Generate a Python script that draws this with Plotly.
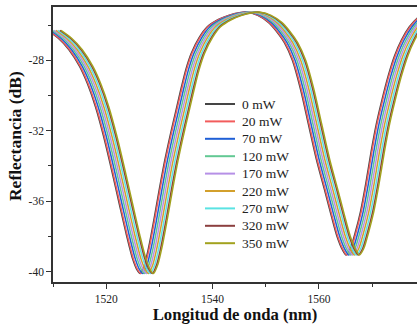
import plotly.graph_objects as go

# Reflection spectrum at 0 mW (wavelength in nm, reflectance in dB)
base_wavelength = [
    1509.0, 1511.0, 1513.0, 1515.0, 1516.5, 1518.0, 1519.5, 1521.0, 1522.5,
    1523.8, 1525.0, 1525.8, 1526.4, 1527.2, 1528.0, 1529.0, 1530.0, 1531.0,
    1532.0, 1533.0, 1534.0, 1535.0, 1536.0, 1537.5, 1539.0, 1541.0, 1543.0,
    1545.0, 1546.5, 1548.5, 1550.5, 1552.0, 1553.5, 1555.0, 1556.5, 1558.0,
    1559.5, 1561.0, 1562.3, 1563.4, 1564.4, 1565.1, 1565.9, 1566.8, 1567.8,
    1568.8, 1569.8, 1570.8, 1571.8, 1573.0, 1574.2, 1575.5, 1577.0, 1578.5,
    1580.0,
]
base_reflectance = [
    -26.3, -26.75, -27.4, -28.35, -29.35, -30.65, -32.3, -34.2, -36.2,
    -37.9, -39.3, -39.9, -40.1, -39.6, -38.6, -37.0, -35.3, -33.7,
    -32.3, -31.0, -29.7, -28.5, -27.6, -26.7, -26.1, -25.7, -25.45,
    -25.3, -25.27, -25.45, -25.85, -26.35, -27.0, -28.0, -29.6, -31.6,
    -33.6, -35.3, -36.8, -38.0, -38.75, -39.05, -38.7, -37.8, -36.6,
    -35.0, -33.2, -31.6, -30.3, -28.9, -27.75, -26.85, -26.1, -25.6,
    -25.3,
]

# Pump power levels and the resulting red-shift of the spectrum (nm)
power_labels = ["0 mW", "20 mW", "70 mW", "120 mW", "170 mW",
                "220 mW", "270 mW", "320 mW", "350 mW"]
wavelength_shift = [0.0, 0.14, 0.5, 0.86, 1.21, 1.57, 1.93, 2.29, 2.5]
line_colors = ["#454545", "#f25c5c", "#1f5fd6", "#62c893", "#b690e6",
               "#d3a02c", "#5ae3e3", "#8b3f3f", "#a2a21e"]

x_ticks = [1520, 1540, 1560]
x_minor = [1510, 1530, 1550, 1570]
y_ticks = [-40, -36, -32, -28]
y_labels = ["-40", "-36", "-32", "-28"]
y_minor = [-38, -34, -30, -26]

serif = "Liberation Serif, Times New Roman, serif"

W, H = 417, 327
M_L, M_R, M_T, M_B = 53, 0, 7, 45
PLOT_W = W - M_L - M_R
PLOT_H = H - M_T - M_B


def px_to_paper(px, py):
    return (px - M_L) / PLOT_W, (H - M_B - py) / PLOT_H


fig = go.Figure()
for label, shift, color in zip(power_labels, wavelength_shift, line_colors):
    fig.add_trace(go.Scatter(
        x=[w + shift for w in base_wavelength],
        y=base_reflectance,
        mode="lines",
        name=label,
        showlegend=False,
        line=dict(color=color, width=1.5, shape="spline", smoothing=0.8),
    ))

# Compact key: a short coloured line and a label per power level
key_shapes = []
key_labels = []
row_top, row_step = 104.0, 17.4
for i, (label, color) in enumerate(zip(power_labels, line_colors)):
    py = row_top + i * row_step
    x0, y0 = px_to_paper(205, py)
    x1, _ = px_to_paper(235, py)
    key_shapes.append(dict(
        type="line", xref="paper", yref="paper",
        x0=x0, x1=x1, y0=y0, y1=y0,
        line=dict(color=color, width=2),
    ))
    tx, _ = px_to_paper(239.5, py)
    key_labels.append(dict(
        text=label, xref="paper", yref="paper",
        x=tx, y=y0, xanchor="left", yanchor="middle",
        showarrow=False,
        font=dict(family=serif, size=13.5, color="#222222"),
    ))

axis_common = dict(
    showgrid=False, zeroline=False,
    showline=True, linecolor="#333333", linewidth=1.5,
    ticks="outside", ticklen=5, tickwidth=1, tickcolor="#333333",
    tickfont=dict(family=serif, size=11.5, color="#222222"),
)

fig.update_layout(
    width=W, height=H,
    margin=dict(l=M_L, r=M_R, t=M_T, b=M_B),
    paper_bgcolor="white", plot_bgcolor="white",
    showlegend=False,
    shapes=key_shapes,
    xaxis=dict(
        range=[1510, 1578.43],
        tickvals=x_ticks,
        mirror=True,
        minor=dict(tickvals=x_minor, ticks="outside", ticklen=3,
                   tickcolor="#333333"),
        title=dict(text="<b>Longitud de onda (nm)</b>", standoff=3,
                   font=dict(family=serif, size=16.7, color="#111111")),
        **axis_common,
    ),
    yaxis=dict(
        range=[-40.585, -24.975],
        tickvals=y_ticks, ticktext=y_labels,
        minor=dict(tickvals=y_minor, ticks="outside", ticklen=3,
                   tickcolor="#333333"),
        **axis_common,
    ),
    annotations=key_labels + [dict(
        text="<b>Reflectancia (dB)</b>",
        xref="paper", yref="paper",
        x=-0.105, y=0.53, xanchor="center", yanchor="middle",
        textangle=-90, showarrow=False,
        font=dict(family=serif, size=17.5, color="#111111"),
    )],
)

fig.write_html("out.html")
